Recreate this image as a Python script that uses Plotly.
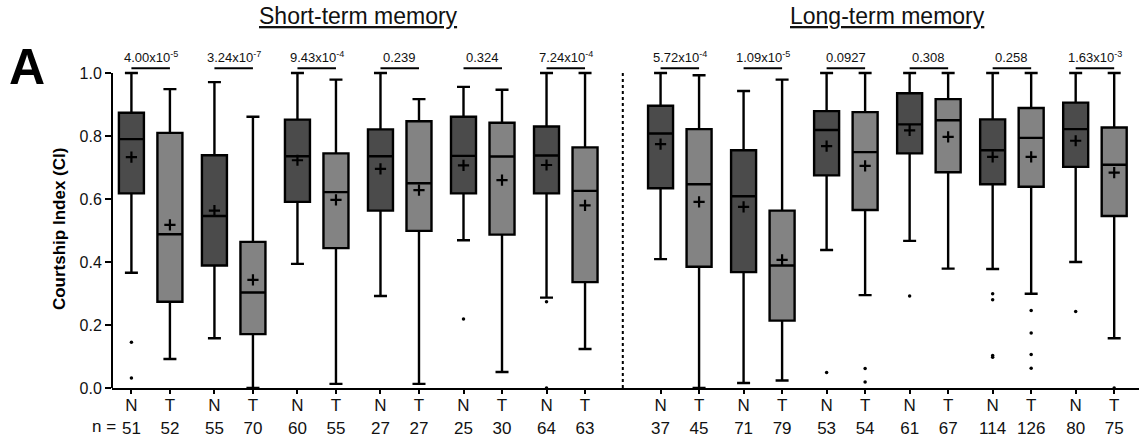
import plotly.graph_objects as go

# ---------------- data ----------------
n_counts = [51, 55, 60, 27, 25, 64, 37, 71, 53, 61, 114, 80]
t_counts = [52, 70, 55, 27, 30, 63, 45, 79, 54, 67, 126, 75]
p_values = ["4.00x10<sup>-5</sup>", "3.24x10<sup>-7</sup>", "9.43x10<sup>-4</sup>", "0.239", "0.324",
            "7.24x10<sup>-4</sup>", "5.72x10<sup>-4</sup>", "1.09x10<sup>-5</sup>", "0.0927", "0.308",
            "0.258", "1.63x10<sup>-3</sup>"]

n_upper = [1.0, 0.971, 1.0, 1.0, 0.956, 1.0, 1.0, 0.943, 1.0, 1.0, 1.0, 1.0]
n_q3 = [0.874, 0.739, 0.852, 0.821, 0.861, 0.830, 0.896, 0.755, 0.879, 0.936, 0.853, 0.906]
n_median = [0.790, 0.546, 0.736, 0.736, 0.737, 0.738, 0.808, 0.609, 0.819, 0.837, 0.755, 0.822]
n_mean = [0.733, 0.563, 0.723, 0.696, 0.707, 0.708, 0.774, 0.575, 0.768, 0.818, 0.734, 0.785]
n_q1 = [0.618, 0.389, 0.591, 0.563, 0.618, 0.618, 0.634, 0.368, 0.675, 0.745, 0.647, 0.702]
n_lower = [0.366, 0.158, 0.394, 0.292, 0.469, 0.287, 0.409, 0.016, 0.438, 0.467, 0.378, 0.400]
n_outliers = [[0.145, 0.032], [], [], [], [0.219], [0.274, 0.0], [], [], [0.049], [0.292],
              [0.299, 0.280, 0.103, 0.098], [0.243]]

t_upper = [0.949, 0.861, 0.979, 0.917, 0.947, 1.0, 0.993, 0.979, 1.0, 1.0, 1.0, 1.0]
t_q3 = [0.810, 0.464, 0.745, 0.847, 0.842, 0.764, 0.822, 0.563, 0.876, 0.917, 0.889, 0.827]
t_median = [0.488, 0.303, 0.622, 0.650, 0.735, 0.626, 0.647, 0.389, 0.749, 0.850, 0.794, 0.709]
t_mean = [0.518, 0.343, 0.597, 0.628, 0.660, 0.580, 0.591, 0.407, 0.705, 0.797, 0.734, 0.684]
t_q1 = [0.274, 0.171, 0.444, 0.499, 0.487, 0.336, 0.385, 0.214, 0.565, 0.685, 0.639, 0.546]
t_lower = [0.092, 0.0, 0.013, 0.013, 0.051, 0.124, 0.0, 0.024, 0.295, 0.379, 0.299, 0.158]
t_outliers = [[], [], [], [], [], [], [], [], [0.062, 0.019], [], [0.246, 0.175, 0.106, 0.063], [0.0]]

# ---------------- layout helpers ----------------
PAIR_STEP = 83.0
WITHIN = 38.5
GROUP_GAP = 31.0
npairs = len(n_counts)
x_n = [i * PAIR_STEP + (GROUP_GAP if i >= 6 else 0) for i in range(npairs)]
x_t = [x + WITHIN for x in x_n]
x_div = (x_t[5] + x_n[6]) / 2

N_COLOR = "#4b4b4b"
T_COLOR = "#838383"
FONT = "Liberation Sans, Arial, sans-serif"

fig = go.Figure()

for xs, q1, med, q3, lo, up, col in [
    (x_n, n_q1, n_median, n_q3, n_lower, n_upper, N_COLOR),
    (x_t, t_q1, t_median, t_q3, t_lower, t_upper, T_COLOR),
]:
    fig.add_trace(go.Box(
        x=xs, q1=q1, median=med, q3=q3, lowerfence=lo, upperfence=up,
        width=25, whiskerwidth=0.52, fillcolor=col,
        line=dict(color="black", width=2.4), boxpoints=False, showlegend=False,
    ))

# means as '+'
fig.add_trace(go.Scatter(
    x=x_n + x_t, y=n_mean + t_mean, mode="markers", showlegend=False,
    marker=dict(symbol="cross-thin", size=8, color="black", line=dict(color="black", width=2.2)),
))

# outliers
ox, oy = [], []
for xs, outs in [(x_n, n_outliers), (x_t, t_outliers)]:
    for x, vals in zip(xs, outs):
        for v in vals:
            ox.append(x)
            oy.append(v)
fig.add_trace(go.Scatter(x=ox, y=oy, mode="markers", showlegend=False,
                         marker=dict(symbol="circle", size=3.5, color="black")))

shapes = []
annotations = []
# y axis line (0 to 1)
shapes.append(dict(type="line", xref="paper", yref="y", x0=0, x1=0, y0=0, y1=1.0,
                   line=dict(color="black", width=2)))
# divider
shapes.append(dict(type="line", xref="x", yref="y", x0=x_div, x1=x_div, y0=0, y1=1.0,
                   line=dict(color="black", width=2, dash="dot")))
# p-value bars
P_Y = 1.015
for xa, xb, p in zip(x_n, x_t, p_values):
    shapes.append(dict(type="line", xref="x", yref="y", x0=xa, x1=xb, y0=P_Y, y1=P_Y,
                       line=dict(color="black", width=2)))
    annotations.append(dict(x=(xa + xb) / 2, y=P_Y, xref="x", yref="y", text=p, showarrow=False,
                            xanchor="center", yanchor="bottom", yshift=1,
                            font=dict(family=FONT, size=13, color="#111")))

# titles centred over each group
for xa, xb, title in [(x_n[0], x_t[5], "Short-term memory"), (x_n[6], x_t[11], "Long-term memory")]:
    annotations.append(dict(x=(xa + xb) / 2, y=1.1426, xref="x", yref="paper", text=f"<u>{title}</u>",
                            xanchor="center", yanchor="middle", showarrow=False,
                            font=dict(family=FONT, size=23, color="#111")))
# panel letter
annotations.append(dict(x=-0.083, y=0.985, xref="paper", yref="paper", text="<b>A</b>",
                        xanchor="center", yanchor="middle",
                        showarrow=False, font=dict(family=FONT, size=50, color="black")))
# y title
annotations.append(dict(x=-0.0516, y=0.4876, xref="paper", yref="paper", text="<b>Courtship Index (CI)</b>",
                        xanchor="center", yanchor="middle",
                        textangle=-90, showarrow=False, font=dict(family=FONT, size=17, color="black")))
# n =
annotations.append(dict(x=0.0058, y=-0.1175, xref="paper", yref="paper", text="n =", xanchor="right",
                        yanchor="middle", showarrow=False, font=dict(family=FONT, size=17, color="#111")))

tickvals = []
ticktext = []
for xa, xb, a, b in zip(x_n, x_t, n_counts, t_counts):
    tickvals += [xa, xb]
    ticktext += [f"N<br>{a}", f"T<br>{b}"]

fig.update_layout(
    width=1139, height=442,
    margin=dict(l=112, r=0, t=61.6, b=53.7),
    plot_bgcolor="white", paper_bgcolor="white",
    shapes=shapes, annotations=annotations,
    xaxis=dict(range=[-19.4, 1007.3], tickvals=tickvals, ticktext=ticktext, showline=True,
               linecolor="black", linewidth=2, ticks="outside", ticklen=4, tickwidth=2,
               tickcolor="black", showgrid=False, zeroline=False, ticklabelstandoff=-3,
               tickfont=dict(family=FONT, size=17, color="#111")),
    yaxis=dict(range=[0, 1.035], tickvals=[0, 0.2, 0.4, 0.6, 0.8, 1.0],
               ticktext=["0.0", "0.2", "0.4", "0.6", "0.8", "1.0"], showline=False,
               ticks="outside", ticklen=6, tickwidth=2, tickcolor="black", showgrid=False,
               zeroline=False, tickfont=dict(family=FONT, size=16, color="#111")),
)

fig.write_html("out.html")
